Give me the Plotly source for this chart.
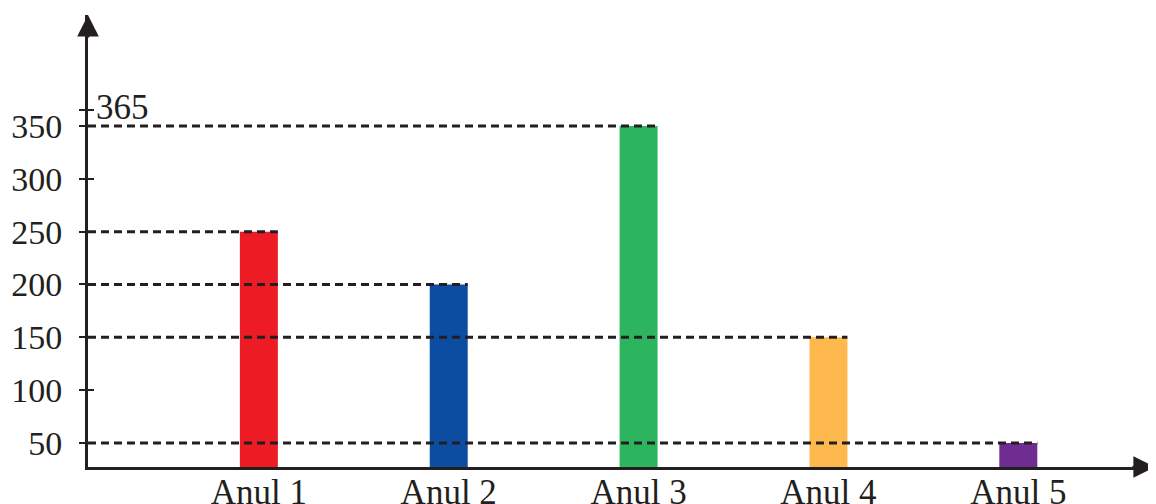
import plotly.graph_objects as go

# Values
CATEGORIES = ["Anul 1", "Anul 2", "Anul 3", "Anul 4", "Anul 5"]
VALUES = [250, 200, 350, 150, 50]
BAR_COLORS = ["#ED1C24", "#0C4DA2", "#2DB45F", "#FDB94D", "#6F2C91"]
Y_TICKS = [50, 100, 150, 200, 250, 300, 350]
EXTRA_TICK = 365  # marked on the axis with its own label

INK = "#231F20"
FONT = "Liberation Serif"
BAR_WIDTH = 0.2
X_RANGE = [-0.9, 4.72]
Y_RANGE = [27.3, 455]

fig = go.Figure()
fig.add_trace(
    go.Bar(
        x=CATEGORIES,
        y=VALUES,
        width=BAR_WIDTH,
        marker=dict(color=BAR_COLORS, line=dict(width=0)),
        showlegend=False,
        hoverinfo="x+y",
    )
)
# invisible trace so the overlaying axis (inside half of the ticks) is drawn
fig.add_trace(
    go.Scatter(
        x=CATEGORIES, y=VALUES, yaxis="y2", mode="markers",
        marker=dict(opacity=0), showlegend=False, hoverinfo="skip",
    )
)

# dashed guide from the y axis to the top right corner of each bar
for i, v in enumerate(VALUES):
    fig.add_shape(
        type="line", xref="x", yref="y",
        x0=X_RANGE[0], x1=i + BAR_WIDTH / 2, y0=v, y1=v,
        line=dict(color=INK, width=3, dash="8px,5px"),
        layer="above",
    )

tickvals = Y_TICKS + [EXTRA_TICK]
ticktext = [str(t) for t in Y_TICKS] + [""]

# the page body adds an 8px offset, so the figure is 8px smaller each way
fig.update_layout(
    width=1148,
    height=496,
    margin=dict(l=80, r=1, t=7, b=37),
    paper_bgcolor="white",
    plot_bgcolor="white",
    font=dict(family=FONT, color=INK),
    xaxis=dict(
        type="category",
        range=X_RANGE,
        automargin=False,
        showline=True, linecolor=INK, linewidth=2.7,
        showgrid=False, zeroline=False,
        ticks="",
        tickfont=dict(size=35, family=FONT, color=INK),
        ticklabelstandoff=-8,
    ),
    yaxis=dict(
        range=Y_RANGE,
        automargin=False,
        showline=True, linecolor=INK, linewidth=2.7,
        showgrid=False, zeroline=False,
        tickvals=tickvals, ticktext=ticktext,
        ticks="outside", ticklen=6, tickwidth=2, tickcolor=INK,
        tickfont=dict(size=34, family=FONT, color=INK),
        ticklabelstandoff=10,
    ),
    yaxis2=dict(
        range=Y_RANGE, overlaying="y", side="left", anchor="x",
        automargin=False,
        showline=False, showgrid=False, zeroline=False,
        tickvals=tickvals, showticklabels=False,
        ticks="inside", ticklen=6, tickwidth=2, tickcolor=INK,
    ),
    annotations=[
        # arrow heads on both axes
        dict(xref="paper", yref="paper", x=0, y=1, ax=0, ay=24,
             text="", showarrow=True, arrowhead=2, arrowsize=1.6,
             arrowwidth=2.7, arrowcolor=INK, standoff=0),
        dict(xref="paper", yref="paper", x=1, y=0, ax=-24, ay=0,
             text="", showarrow=True, arrowhead=2, arrowsize=1.6,
             arrowwidth=2.7, arrowcolor=INK, standoff=0),
        dict(xref="paper", yref="y", x=0, y=EXTRA_TICK, text=str(EXTRA_TICK),
             showarrow=False, xanchor="left", yanchor="middle", xshift=6, yshift=3,
             font=dict(size=35, family=FONT, color=INK)),
    ],
)

fig.write_html("out.html")
